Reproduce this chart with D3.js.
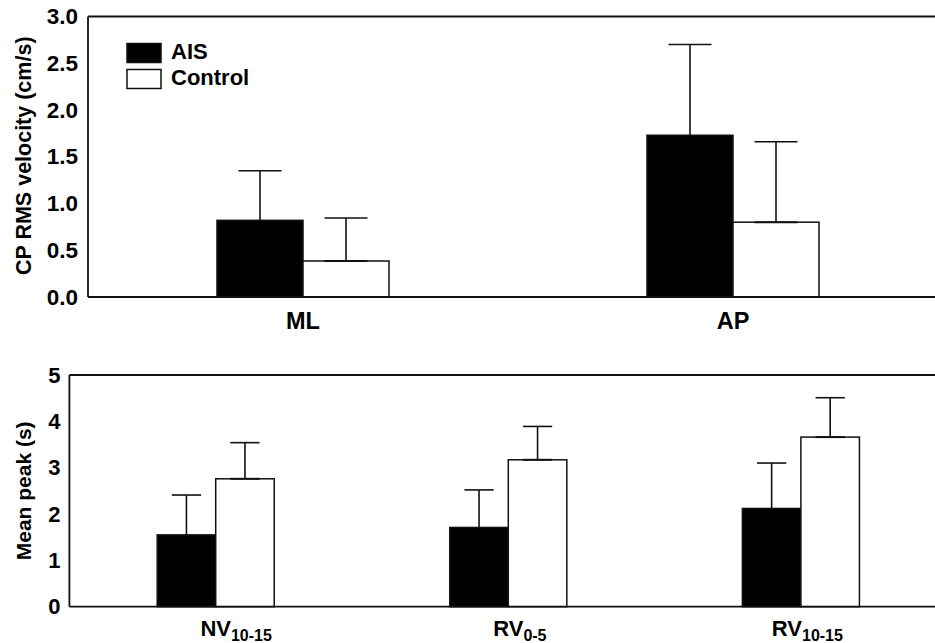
<!DOCTYPE html>
<html>
<head>
<meta charset="utf-8">
<script src="https://cdn.jsdelivr.net/npm/d3@7/dist/d3.min.js"></script>
<style>
  html, body { margin: 0; padding: 0; background: #fff; }
  svg { display: block; }
  text { font-family: "Liberation Sans", Arial, Helvetica, sans-serif; font-weight: bold; fill: #000; }
</style>
</head>
<body>
<svg id="chart" width="935" height="643"></svg>
<script>
// Groups shown in the legend
const groups = ["AIS", "Control"];

// Panel A: centre-of-pressure RMS velocity (cm/s)
const velCategories = ["ML", "AP"];
const velAIS = [0.82, 1.73];
const velAISsd = [0.53, 0.97];
const velControl = [0.385, 0.80];
const velControlSd = [0.46, 0.86];
const velTicks = [0, 0.5, 1.0, 1.5, 2.0, 2.5, 3.0];

// Panel B: mean peak time (s)
const peakCategories = [
  { main: "NV", sub: "10-15" },
  { main: "RV", sub: "0-5" },
  { main: "RV", sub: "10-15" }
];
const peakAIS = [1.55, 1.71, 2.12];
const peakAISsd = [0.86, 0.81, 0.98];
const peakControl = [2.76, 3.17, 3.66];
const peakControlSd = [0.78, 0.72, 0.85];
const peakTicks = [0, 1, 2, 3, 4, 5];

// horizontal nudge of each category label (px)
const peakLabelNudge = [0, 0, -14];

const svg = d3.select("#chart");
const fills = { AIS: "#000", Control: "#fff" };
const ink = "#111";

function drawPanel(cfg) {
  const g = svg.append("g");
  const n = cfg.categories.length;
  const x = d3.scaleBand()
    .domain(d3.range(n))
    .range([cfg.left, cfg.right])
    .paddingInner(0.6)
    .paddingOuter(0.3);
  const xs = d3.scaleBand().domain(groups).range([0, x.bandwidth()]).padding(0);
  const y = d3.scaleLinear().domain(cfg.domain).range([cfg.bottom, cfg.top]);

  const rows = [];
  for (let i = 0; i < n; i++) {
    rows.push({ i, grp: "AIS", v: cfg.ais[i], sd: cfg.aisSd[i] });
    rows.push({ i, grp: "Control", v: cfg.control[i], sd: cfg.controlSd[i] });
  }

  // error bars (upper SD), drawn beneath the bars
  const eb = g.append("g").attr("stroke", ink).attr("stroke-width", 1.6).attr("fill", "none");
  rows.forEach(d => {
    const cx = x(d.i) + xs(d.grp) + xs.bandwidth() / 2;
    const hw = xs.bandwidth() / 4;
    eb.append("line").attr("x1", cx).attr("x2", cx).attr("y1", y(d.v)).attr("y2", y(d.v + d.sd));
    eb.append("line").attr("x1", cx - hw).attr("x2", cx + hw).attr("y1", y(d.v + d.sd)).attr("y2", y(d.v + d.sd));
  });

  // bars
  g.append("g").selectAll("rect").data(rows).join("rect")
    .attr("x", d => x(d.i) + xs(d.grp))
    .attr("width", xs.bandwidth())
    .attr("y", d => y(d.v))
    .attr("height", d => y(0) - y(d.v))
    .attr("fill", d => fills[d.grp])
    .attr("stroke", ink)
    .attr("stroke-width", 1.5);

  // short cap at the mean on the open bars
  const mc = g.append("g").attr("stroke", ink).attr("stroke-width", 2);
  rows.filter(d => d.grp === "Control").forEach(d => {
    const cx = x(d.i) + xs(d.grp) + xs.bandwidth() / 2;
    const hw = xs.bandwidth() / 4;
    mc.append("line").attr("x1", cx - hw).attr("x2", cx + hw).attr("y1", y(d.v)).attr("y2", y(d.v));
  });

  // frame: left, top, bottom
  const fr = g.append("g").attr("stroke", ink).attr("stroke-width", 1.8);
  fr.append("line").attr("x1", cfg.left).attr("x2", cfg.left).attr("y1", cfg.top).attr("y2", cfg.bottom);
  fr.append("line").attr("x1", cfg.left).attr("x2", cfg.right).attr("y1", cfg.top).attr("y2", cfg.top);
  fr.append("line").attr("x1", cfg.left).attr("x2", cfg.right).attr("y1", cfg.bottom).attr("y2", cfg.bottom);

  // y axis tick labels
  const ya = g.append("g").attr("transform", `translate(${cfg.left},0)`)
    .call(d3.axisLeft(y).tickValues(cfg.ticks).tickSize(0).tickPadding(cfg.tickPad).tickFormat(cfg.fmt));
  ya.select(".domain").remove();
  ya.selectAll("text")
    .attr("font-family", "'Liberation Sans', Arial, sans-serif")
    .attr("font-weight", "bold")
    .attr("font-size", cfg.tickFont)
    .attr("fill", "#000");

  // y axis title
  g.append("text")
    .attr("transform", `translate(${cfg.yTitleX},${(cfg.top + cfg.bottom) / 2 + cfg.yTitleShift}) rotate(-90)`)
    .attr("text-anchor", "middle")
    .attr("font-size", cfg.titleFont)
    .text(cfg.yTitle);

  // category labels: the main part is centred under its group, a subscript trails it
  cfg.categories.forEach((c, i) => {
    const cx = x(i) + x.bandwidth() / 2 + (cfg.nudge ? cfg.nudge[i] : 0);
    const t = g.append("text")
      .attr("y", cfg.bottom + cfg.labelOffset)
      .attr("font-size", cfg.catFont);
    if (typeof c === "string") {
      t.attr("x", cx).attr("text-anchor", "middle").text(c);
    } else {
      const main = t.append("tspan").text(c.main);
      t.append("tspan").attr("font-size", cfg.subFont).attr("dy", 5).text(c.sub);
      const w = main.node().getComputedTextLength();
      t.attr("x", cx - w / 2).attr("text-anchor", "start");
    }
  });
  return { x, y };
}

drawPanel({
  categories: velCategories,
  ais: velAIS, aisSd: velAISsd, control: velControl, controlSd: velControlSd,
  domain: [0, 3], ticks: velTicks, fmt: d3.format(".1f"),
  left: 88, right: 948, top: 16.5, bottom: 297,
  tickFont: 22.5, tickPad: 10, titleFont: 21.5, catFont: 23.5, labelOffset: 32,
  yTitle: "CP RMS velocity (cm/s)", yTitleX: 31, yTitleShift: -1
});

drawPanel({
  categories: peakCategories, nudge: peakLabelNudge,
  ais: peakAIS, aisSd: peakAISsd, control: peakControl, controlSd: peakControlSd,
  domain: [0, 5], ticks: peakTicks, fmt: d3.format("d"),
  left: 69.4, right: 947.2, top: 375, bottom: 606.7,
  tickFont: 22, tickPad: 9, titleFont: 21, catFont: 22, subFont: 16, labelOffset: 29,
  yTitle: "Mean peak (s)", yTitleX: 31, yTitleShift: 0
});

// legend
const legend = svg.append("g").attr("transform", "translate(127,43.5)");
groups.forEach((gname, k) => {
  const row = legend.append("g").attr("transform", `translate(0,${k * 26})`);
  row.append("rect").attr("width", 34).attr("height", 19)
    .attr("fill", fills[gname]).attr("stroke", ink).attr("stroke-width", 1.5);
  row.append("text").attr("x", 44).attr("y", 15.5).attr("font-size", 22).text(gname);
});
</script>
</body>
</html>
